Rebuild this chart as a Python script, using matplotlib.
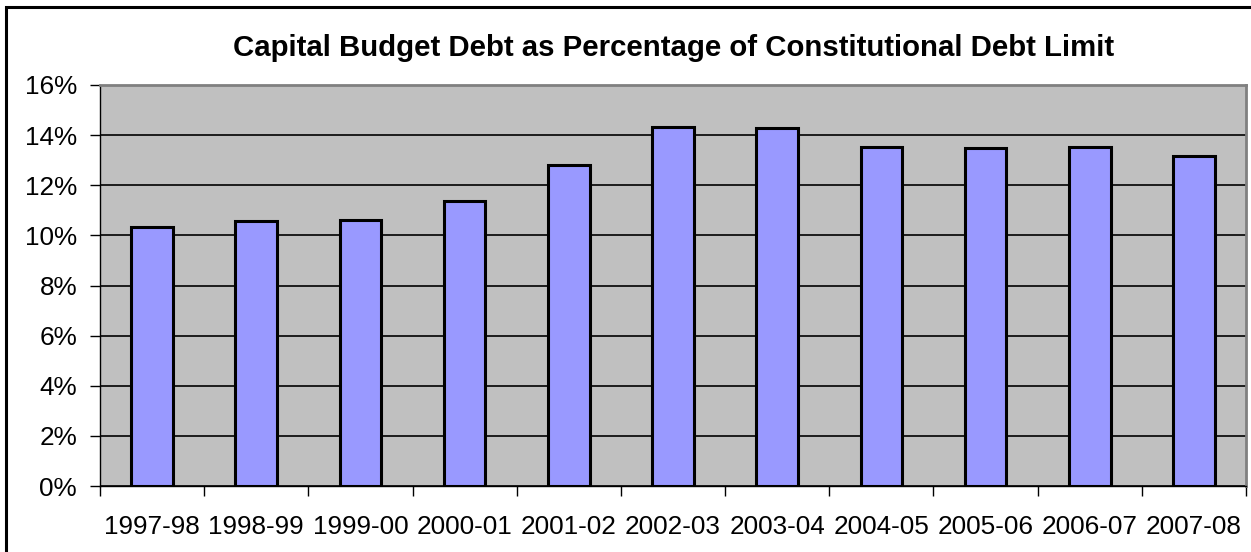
import matplotlib.pyplot as plt
from matplotlib.patches import Rectangle
from matplotlib.ticker import FuncFormatter, MultipleLocator

plt.rcParams['font.family'] = ['Liberation Sans', 'DejaVu Sans']

years = ['1997-98', '1998-99', '1999-00', '2000-01', '2001-02', '2002-03',
         '2003-04', '2004-05', '2005-06', '2006-07', '2007-08']
debt_pct = [10.33, 10.56, 10.61, 11.36, 12.79, 14.31, 14.27, 13.52, 13.48, 13.52, 13.17]

fig = plt.figure(figsize=(12.51, 5.52), dpi=100)
ax = fig.add_axes([100 / 1251, 1 - 486 / 552, 1146 / 1251, 401 / 552])

# outer chart border (only top and left fall inside the picture)
fig.patches.append(Rectangle((6 / 1251, -0.1), 1.2, 1 - 7 / 552 + 0.1,
                             transform=fig.transFigure, fill=False,
                             edgecolor='black', linewidth=2.2))

ax.set_facecolor('#C0C0C0')
x = list(range(len(years)))
ax.bar(x, debt_pct, width=0.4, color='#9999FF', edgecolor='black',
       linewidth=2.2, zorder=3)

ax.set_xlim(-0.5, len(years) - 0.5)
ax.set_ylim(0, 16)
ax.yaxis.set_major_locator(MultipleLocator(2))
ax.yaxis.set_major_formatter(FuncFormatter(lambda v, p: f'{v:.0f}%'))
ax.grid(axis='y', color='black', linewidth=1.2, zorder=1)

ax.set_xticks(x)
ax.set_xticklabels(years)
ax.set_xticks([i - 0.5 for i in range(len(years) + 1)], minor=True)
ax.tick_params(axis='x', which='major', length=0, labelsize=18.8, pad=21)
ax.tick_params(axis='x', which='minor', length=7, width=1, direction='out')
ax.tick_params(axis='y', length=7, width=1, labelsize=18.8, pad=9.5)

for side in ['top', 'right']:
    ax.spines[side].set_color('#808080')
    ax.spines[side].set_linewidth(2)
for side in ['left', 'bottom']:
    ax.spines[side].set_color('black')
    ax.spines[side].set_linewidth(1)

fig.text(674 / 1251, 1 - 48 / 552, 'Capital Budget Debt as Percentage of Constitutional Debt Limit',
         ha='center', va='center', fontsize=21.2, fontweight='bold')

fig.savefig('out.png', dpi=100)
